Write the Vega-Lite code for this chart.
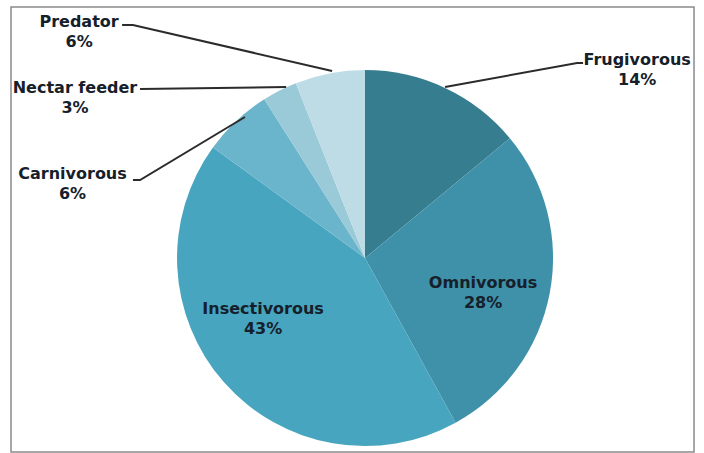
{
  "$schema": "https://vega.github.io/schema/vega-lite/v6.json",
  "width": 683,
  "height": 445,
  "autosize": {"type": "none"},
  "padding": {"left": 11, "top": 7, "right": 10, "bottom": 1},
  "background": "white",
  "config": {"view": {"stroke": "#8a8a8a", "strokeWidth": 1.5}},
  "datasets": {
    "diet": [
      {"category": "Frugivorous", "percent": 14, "order": 1},
      {"category": "Omnivorous", "percent": 28, "order": 2},
      {"category": "Insectivorous", "percent": 43, "order": 3},
      {"category": "Carnivorous", "percent": 6, "order": 4},
      {"category": "Nectar feeder", "percent": 3, "order": 5},
      {"category": "Predator", "percent": 6, "order": 6}
    ],
    "labels": [
      {"category": "Frugivorous", "lx": 145.5, "ly": 103.2},
      {"category": "Omnivorous", "lx": 63.1, "ly": -16.0},
      {"category": "Insectivorous", "lx": -54.5, "ly": -29.9},
      {"category": "Carnivorous", "lx": -156.4, "ly": 42.2},
      {"category": "Nectar feeder", "lx": -155.1, "ly": 88.2},
      {"category": "Predator", "lx": -152.9, "ly": 123.5}
    ],
    "leaders": [
      {"category": "Frugivorous", "step": 1, "lx": 42.8, "ly": 91.4},
      {"category": "Frugivorous", "step": 2, "lx": 113.4, "ly": 104.3},
      {"category": "Frugivorous", "step": 3, "lx": 116.6, "ly": 104.3},
      {"category": "Carnivorous", "step": 1, "lx": -64.2, "ly": 75.4},
      {"category": "Carnivorous", "step": 2, "lx": -120.3, "ly": 41.7},
      {"category": "Carnivorous", "step": 3, "lx": -124.1, "ly": 41.7},
      {"category": "Nectar feeder", "step": 1, "lx": -42.2, "ly": 91.4},
      {"category": "Nectar feeder", "step": 2, "lx": -120.3, "ly": 90.4},
      {"category": "Predator", "step": 1, "lx": -17.6, "ly": 100.0},
      {"category": "Predator", "step": 2, "lx": -124.1, "ly": 124.6},
      {"category": "Predator", "step": 3, "lx": -129.9, "ly": 124.6}
    ]
  },
  "layer": [
    {
      "data": {"name": "diet"},
      "mark": {"type": "arc", "radius": 188, "stroke": null},
      "encoding": {
        "x": {"datum": 0, "type": "quantitative", "scale": {"domain": [-189.3, 175.9], "nice": false, "zero": false}, "axis": null},
        "y": {"datum": 0, "type": "quantitative", "scale": {"domain": [-103.7, 134.2], "nice": false, "zero": false}, "axis": null},
        "theta": {"field": "percent", "type": "quantitative", "stack": true},
        "order": {"field": "order", "type": "quantitative"},
        "color": {
          "field": "category",
          "type": "nominal",
          "sort": ["Frugivorous", "Omnivorous", "Insectivorous", "Carnivorous", "Nectar feeder", "Predator"],
          "scale": {
            "domain": ["Frugivorous", "Omnivorous", "Insectivorous", "Carnivorous", "Nectar feeder", "Predator"],
            "range": ["#357D8F", "#3F90A9", "#48A5BF", "#6AB5CB", "#9AC9D8", "#BEDCE6"]
          },
          "legend": null
        }
      }
    },
    {
      "data": {"name": "leaders"},
      "mark": {"type": "line", "color": "#2b2b2b", "strokeWidth": 2},
      "encoding": {
        "x": {"field": "lx", "type": "quantitative", "axis": null},
        "y": {"field": "ly", "type": "quantitative", "axis": null},
        "detail": {"field": "category"},
        "order": {"field": "step", "type": "quantitative"}
      }
    },
    {
      "data": {"name": "labels"},
      "transform": [
        {"lookup": "category", "from": {"data": {"name": "diet"}, "key": "category", "fields": ["percent"]}},
        {"calculate": "datum.category + '\\n' + datum.percent + '%'", "as": "label"}
      ],
      "mark": {
        "type": "text",
        "font": "DejaVu Sans",
        "fontWeight": "bold",
        "fontSize": 16,
        "lineBreak": "\n",
        "lineHeight": 20,
        "align": "center",
        "baseline": "alphabetic",
        "color": "#15202a"
      },
      "encoding": {
        "x": {"field": "lx", "type": "quantitative", "axis": null},
        "y": {"field": "ly", "type": "quantitative", "axis": null},
        "text": {"field": "label"}
      }
    }
  ]
}
